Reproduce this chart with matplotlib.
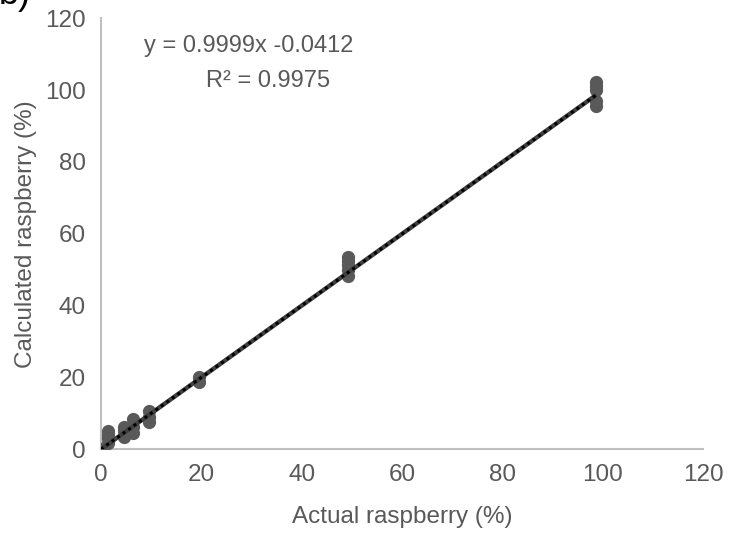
import matplotlib.pyplot as plt

plt.rcParams['font.family'] = ['Liberation Sans', 'DejaVu Sans']

# measured values, grouped by actual raspberry content
actual = [0, 1.5, 1.5, 1.5, 1.5, 4.6, 4.6, 4.6, 6.3, 6.3, 6.3,
          9.6, 9.6, 9.6, 19.6, 19.6, 49.3, 49.3, 49.3, 49.3, 49.3,
          98.7, 98.7, 98.7, 98.7, 98.7]
calculated = [0, 1.8, 3.0, 4.0, 5.0, 3.5, 5.0, 6.3, 4.5, 6.3, 8.4,
              7.5, 9.0, 10.5, 18.6, 20.0, 48.3, 50.0, 51.2, 52.3, 53.6,
              95.5, 97.0, 100.0, 101.2, 102.2]

slope = 0.9999
intercept = -0.0412
r2 = 0.9975

xticks = [0, 20, 40, 60, 80, 100, 120]
yticks = [0, 20, 40, 60, 80, 100, 120]

grey = '#595959'

fig = plt.figure(figsize=(7.31, 5.36), dpi=100)
ax = fig.add_axes([0.138, 0.162, 0.824, 0.804])

ax.plot(actual, calculated, 'o', color=grey, markersize=8.5, zorder=3)

tx = [min(actual), max(actual)]
ty = [slope * v + intercept for v in tx]
ax.plot(tx, ty, color='#404040', linewidth=3.2, solid_capstyle='butt', zorder=4)
ax.plot(tx, ty, color='black', linewidth=2.2, linestyle=(0, (1, 1.2)), zorder=5)

ax.set_xlim(0, 120)
ax.set_ylim(0, 120)
ax.set_xticks(xticks)
ax.set_yticks(yticks)
ax.tick_params(length=0, labelsize=17.5, labelcolor=grey, pad=11)

for s in ['top', 'right']:
    ax.spines[s].set_visible(False)
for s in ['left', 'bottom']:
    ax.spines[s].set_color('#bfbfbf')
    ax.spines[s].set_linewidth(1.5)

ax.set_xlabel('Actual raspberry (%)', fontsize=17.5, color=grey, labelpad=14)
ax.set_ylabel('Calculated raspberry (%)', fontsize=17.5, color=grey, labelpad=6)

ax.text(0.245, 0.936, 'y = 0.9999x -0.0412', transform=ax.transAxes,
        ha='center', va='center', fontsize=17, color=grey)
ax.text(0.278, 0.855, 'R² = %.4f' % r2, transform=ax.transAxes,
        ha='center', va='center', fontsize=17, color=grey)

fig.text(-0.002, 0.993, 'b)', fontsize=26, color='black', va='baseline')

fig.savefig('out.png', dpi=100)
